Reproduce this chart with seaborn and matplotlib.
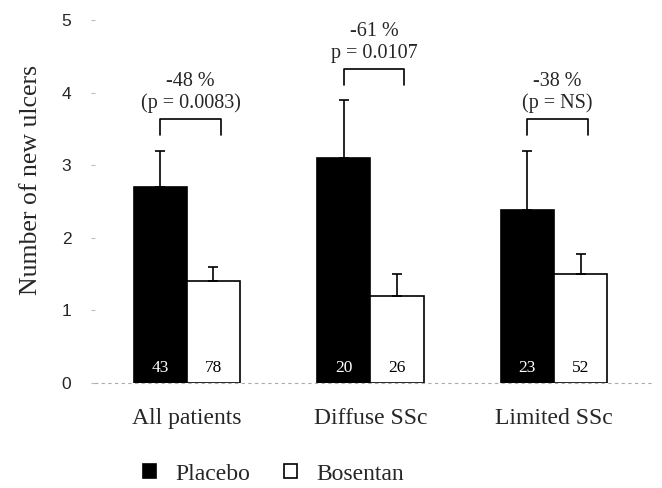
import matplotlib
matplotlib.use("Agg")
import matplotlib.pyplot as plt
import seaborn as sns
import pandas as pd
import numpy as np

categories = ["All patients", "Diffuse SSc", "Limited SSc"]
groups = ["Placebo", "Bosentan"]
placebo_vals = [2.7, 3.1, 2.38]
bosentan_vals = [1.4, 1.2, 1.5]
placebo_err_top = [3.2, 3.9, 3.2]
bosentan_err_top = [1.6, 1.5, 1.78]
placebo_n = ["43", "20", "23"]
bosentan_n = ["78", "26", "52"]
pct_labels = ["-48 %", "-61 %", "-38 %"]
p_labels = ["(p = 0.0083)", "p = 0.0107", "(p = NS)"]
bracket_tops = [3.64, 4.33, 3.64]
yticks = [0, 1, 2, 3, 4, 5]

sns.set_style("white")
serif = ["Liberation Serif", "DejaVu Serif"]
sans = ["Liberation Sans", "DejaVu Sans"]

df = pd.DataFrame({
    "cat": categories * 2,
    "grp": [groups[0]] * 3 + [groups[1]] * 3,
    "val": placebo_vals + bosentan_vals,
})

fig = plt.figure(figsize=(6.62, 4.88), dpi=100)
ax = fig.add_axes([95 / 662, 105 / 488, 560 / 662, 363 / 488])

sns.barplot(data=df, x="cat", y="val", hue="grp", order=categories, hue_order=groups,
            palette={"Placebo": "black", "Bosentan": "white"}, edgecolor="black",
            linewidth=1.2, width=0.58, errorbar=None, ax=ax, legend=True)

patches = [p for p in ax.patches if p.get_height() > 0]
patches = sorted(patches, key=lambda p: p.get_x())
vals = []
tops = []
labels = []
for i in range(3):
    vals += [placebo_vals[i], bosentan_vals[i]]
    tops += [placebo_err_top[i], bosentan_err_top[i]]
    labels += [placebo_n[i], bosentan_n[i]]

for k, p in enumerate(patches[:6]):
    xc = p.get_x() + p.get_width() / 2
    v = vals[k]
    ax.errorbar([xc], [v], yerr=[[0], [tops[k] - v]], fmt="none", ecolor="black",
                elinewidth=1.2, capsize=3.5, capthick=1.2, zorder=1)
    ax.text(xc, 0.21, labels[k], ha="center", va="center", fontsize=12.5,
            family=serif, color="white" if k % 2 == 0 else "black", zorder=5)

for i in range(3):
    p1 = patches[2 * i]
    p2 = patches[2 * i + 1]
    x1 = p1.get_x() + p1.get_width() / 2
    x2 = p2.get_x() + p2.get_width() / 2 + 0.04
    top = bracket_tops[i]
    ax.plot([x1, x1, x2, x2], [top - 0.22, top, top, top - 0.22], color="black", lw=1.2,
            clip_on=False)
    xm = (x1 + x2) / 2
    ax.text(xm, top + 0.51, pct_labels[i], ha="center", va="center", fontsize=14.5, family=serif)
    ax.text(xm, top + 0.21, p_labels[i], ha="center", va="center", fontsize=14.5, family=serif)

ax.set_ylim(0, 5)
ax.set_xlim(-0.5, 2.55)
ax.set_yticks(yticks)
ax.set_yticklabels([str(t) for t in yticks], family=sans, fontsize=12.5)
ax.set_xticks(range(3))
ax.set_xticklabels(categories, family=serif, fontsize=17)
ax.tick_params(axis="x", length=0, pad=18)
ax.tick_params(axis="y", length=3, color="#bbbbbb", pad=14, left=True)
ax.set_xlabel("")
ax.set_ylabel("Number of new ulcers", family=serif, fontsize=18.5)
ax.yaxis.set_label_coords(-0.095, 0.56)
for s in ["top", "right", "left"]:
    ax.spines[s].set_visible(False)
ax.spines["bottom"].set_color("#aaaaaa")
ax.spines["bottom"].set_linestyle((0, (2, 4)))
ax.spines["bottom"].set_linewidth(0.8)

leg = ax.legend(loc="center left", bbox_to_anchor=(143 / 662, 1 - 474 / 488), bbox_transform=fig.transFigure,
                ncol=2, frameon=False, prop={"family": serif, "size": 17},
                handlelength=0.55, handleheight=0.55, columnspacing=1.45, handletextpad=0.8,
                borderpad=0, borderaxespad=0)

fig.savefig("out.png", dpi=100)
